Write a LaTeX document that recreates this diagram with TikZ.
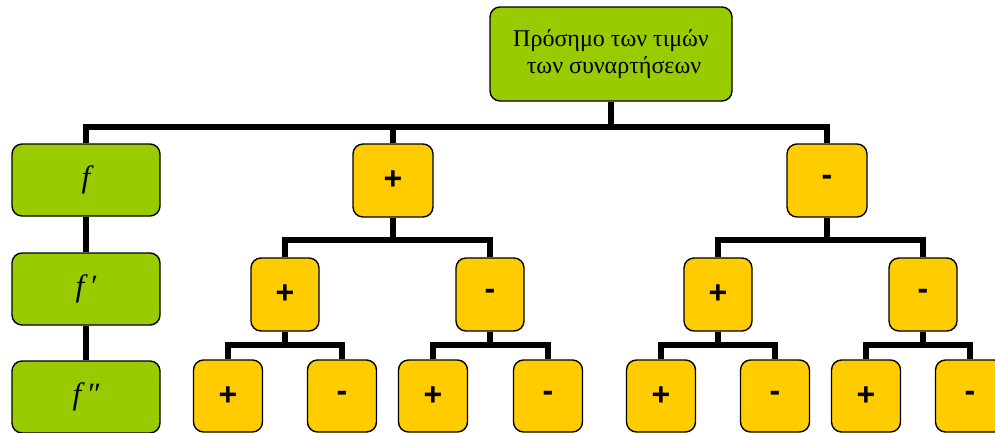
\documentclass[tikz,border=0pt]{standalone}
\usepackage{fontspec}
\setmainfont{Liberation Serif}
\newfontfamily\signfont{Liberation Sans}
\definecolor{leafgreen}{HTML}{99CC00}
\definecolor{signyellow}{HTML}{FFCC00}
\begin{document}
\begin{tikzpicture}[x=1pt,y=-1pt,
  box/.style={draw=black,line width=1.4pt,rounded corners=10pt,inner sep=0pt,align=center},
  gbox/.style={box,fill=leafgreen,minimum width=148pt,minimum height=72pt,font=\fontsize{31}{34}\selectfont\itshape},
  sbig/.style={box,fill=signyellow,minimum width=80pt,minimum height=73pt,font=\signfont\bfseries\fontsize{32}{36}\selectfont},
  ssmall/.style={box,fill=signyellow,minimum width=68pt,minimum height=73pt,font=\signfont\bfseries\fontsize{32}{36}\selectfont},
  leaf/.style={ssmall,minimum width=69pt,minimum height=72pt},
  link/.style={draw=black,line width=5.5pt}]
\useasboundingbox (0,0) rectangle (995,432);

% root
\node[box,fill=leafgreen,minimum width=242pt,minimum height=94pt,
      font=\fontsize{24}{27}\selectfont] (root) at (611,54)
  {Πρόσημο των τιμών\\\ των συναρτήσεων};

% function column
\node[gbox] (f0) at (86,180) {f};
\node[gbox] (f1) at (86,289) {f\,′};
\node[gbox] (f2) at (86,397) {f\,″};

% first level signs
\node[sbig] (p) at (393,180.5) {+};
\node[sbig] (m) at (827,180.5) {-};

% second level signs
\node[ssmall] (pp) at (285,294.5) {+};
\node[ssmall] (pm) at (490,294.5) {-};
\node[ssmall] (mp) at (718,294.5) {+};
\node[ssmall] (mm) at (923,294.5) {-};

% third level signs
\node[leaf] (ppp) at (228,396) {+};
\node[leaf] (ppm) at (342,396) {-};
\node[leaf] (pmp) at (433,396) {+};
\node[leaf] (pmm) at (548,396) {-};
\node[leaf] (mpp) at (661,396) {+};
\node[leaf] (mpm) at (775,396) {-};
\node[leaf] (mmp) at (866,396) {+};
\node[leaf] (mmm) at (970,396) {-};

% connectors
\foreach \c in {f0,p,m}
  \draw[link] (root.south) -- (root.south |- 0,127) -| (\c.north);
\draw[link] (f0.south) -- (f1.north);
\draw[link] (f1.south) -- (f2.north);
\foreach \a/\b/\c in {p/pp/pm, m/mp/mm}{
  \draw[link] (\a.south) -- (\a.south |- 0,240) -| (\b.north);
  \draw[link] (\a.south |- 0,240) -| (\c.north);
}
\foreach \a/\b/\c in {pp/ppp/ppm, pm/pmp/pmm, mp/mpp/mpm, mm/mmp/mmm}{
  \draw[link] (\a.south) -- (\a.south |- 0,345) -| (\b.north);
  \draw[link] (\a.south |- 0,345) -| (\c.north);
}
\end{tikzpicture}
\end{document}
